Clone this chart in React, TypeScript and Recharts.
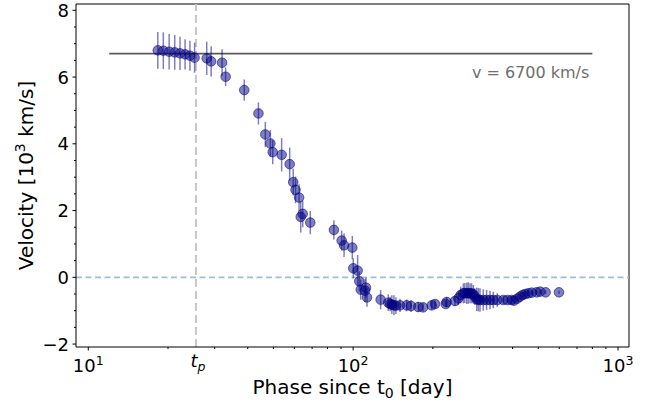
import React from 'react';
import {
  ScatterChart,
  Scatter,
  XAxis,
  YAxis,
  ErrorBar,
  ReferenceLine,
  Label,
} from 'recharts';

// Phase since t0 [day]
const phase = [
  18.3, 19.2, 20.2, 21.2, 22.2, 23.2, 24.2, 25.2, 28.0, 29.1,
  32.0, 33.0, 38.8, 43.9, 46.6, 48.7, 49.7, 53.7, 57.6, 59.4,
  60.6, 62.5, 63.4, 64.5, 68.9, 84.6, 90.5, 92.4, 99.3, 100.1,
  104.0, 105.5, 106.8, 110.9, 111.8, 112.8, 127.0, 135.7, 138.0, 140.0,
  142.6, 145.0, 150.3, 159.2, 165.4, 176.2, 183.6, 198.0, 203.8, 223.7,
  225.5, 242.4, 249.5, 254.7, 260.6, 264.0, 268.4, 272.0, 276.2, 280.0,
  284.3, 288.0, 292.8, 297.0, 301.3, 310.0, 319.0, 328.7, 338.0, 350.0,
  369.0, 383.0, 397.0, 405.0, 416.6, 426.6, 436.7, 446.6, 458.6, 472.0,
  493.0, 508.0, 533.0, 598.6,
];

// Velocity [10^3 km/s]
const velocity = [
  6.80, 6.79, 6.76, 6.74, 6.71, 6.68, 6.64, 6.58, 6.56, 6.47,
  6.43, 6.01, 5.61, 4.91, 4.28, 4.01, 3.75, 3.67, 3.39, 2.85,
  2.62, 2.39, 1.81, 1.90, 1.64, 1.42, 1.10, 0.96, 0.89, 0.27,
  0.20, -0.12, -0.37, -0.40, -0.31, -0.60, -0.67, -0.76, -0.80, -0.82,
  -0.84, -0.85, -0.84, -0.84, -0.86, -0.89, -0.90, -0.84, -0.80, -0.80,
  -0.74, -0.71, -0.63, -0.53, -0.48, -0.47, -0.48, -0.47, -0.48, -0.48,
  -0.51, -0.58, -0.66, -0.67, -0.68, -0.68, -0.68, -0.68, -0.68, -0.68,
  -0.68, -0.68, -0.68, -0.70, -0.64, -0.58, -0.53, -0.50, -0.48, -0.46,
  -0.45, -0.43, -0.45, -0.45,
];

// Velocity uncertainty [10^3 km/s]
const velocityErr = [
  0.55, 0.55, 0.53, 0.52, 0.50, 0.45, 0.45, 0.45, 0.50, 0.45,
  0.40, 0.28, 0.32, 0.33, 0.38, 0.40, 0.36, 0.50, 0.50, 0.40,
  0.40, 0.40, 0.47, 0.40, 0.35, 0.29, 0.30, 0.35, 0.35, 0.30,
  0.47, 0.30, 0.30, 0.35, 0.30, 0.28, 0.29, 0.25, 0.22, 0.28,
  0.30, 0.25, 0.20, 0.18, 0.18, 0.15, 0.12, 0.12, 0.12, 0.10,
  0.15, 0.15, 0.20, 0.25, 0.30, 0.30, 0.32, 0.32, 0.30, 0.30,
  0.28, 0.25, 0.35, 0.35, 0.35, 0.32, 0.30, 0.28, 0.25, 0.20,
  0.12, 0.10, 0.12, 0.10, 0.10, 0.10, 0.10, 0.10, 0.08, 0.08,
  0.06, 0.06, 0.06, 0.05,
];

const xMajorTicks = [10, 100, 1000];
const xMinorTicks = [20, 30, 40, 50, 60, 70, 80, 90, 200, 300, 400, 500, 600, 700, 800, 900];
const tpPhase = 25.5;
const yMajorTicks = [-2, 0, 2, 4, 6, 8];
const yMinorTicks = [-1.5, -1, -0.5, 0.5, 1, 1.5, 2.5, 3, 3.5, 4.5, 5, 5.5, 6.5, 7, 7.5];

const plateauVelocity = 6.7;
const plateauStart = 12;
const plateauEnd = 800;
const plateauLabel = 'v = 6700 km/s';

const xDomain = [8.987, 1100.3];
const yDomain = [-2.088, 8.189];

const data = phase.map((x, i) => ({ x, y: velocity[i], err: velocityErr[i] }));

const FONT = '"DejaVu Sans", sans-serif';
const NAVY = '#000080';

const XTick = (props: any) => {
  const { x, y, payload } = props;
  const v = payload.value;
  if (Math.abs(v - tpPhase) < 1e-6) {
    return (
      <text x={x + 2} y={y + 20} textAnchor="middle" fontFamily={FONT} fontSize={18} fontStyle="italic" fill="#000">
        t<tspan dy={4} fontSize={12.5}>p</tspan>
      </text>
    );
  }
  const major = xMajorTicks.some((m) => Math.abs(m - v) < 1e-6);
  const exp = Math.round(Math.log10(v));
  return (
    <g>
      <line x1={x} x2={x} y1={y} y2={y + (major ? 3.5 : 2)} stroke="#000" strokeWidth={1} />
      {major && (
        <text x={x} y={y + 25} textAnchor="middle" fontFamily={FONT} fontSize={18} fill="#000">
          10<tspan dy={-7} fontSize={12.6}>{exp}</tspan>
        </text>
      )}
    </g>
  );
};

const YTick = (props: any) => {
  const { x, y, payload } = props;
  const v = payload.value;
  const major = yMajorTicks.some((m) => Math.abs(m - v) < 1e-6);
  return (
    <g>
      <line x1={x - (major ? 3.5 : 2)} x2={x} y1={y} y2={y} stroke="#000" strokeWidth={1} />
      {major && (
        <text x={x - 7} y={y + 6.5} textAnchor="end" fontFamily={FONT} fontSize={18} fill="#000">
          {v < 0 ? '\u2212' + Math.abs(v) : String(v)}
        </text>
      )}
    </g>
  );
};

const renderDot = (props: any) => {
  const { cx, cy } = props;
  if (cx == null || cy == null) return <g />;
  return (
    <circle cx={cx} cy={cy} r={4.8} fill={NAVY} fillOpacity={0.5} stroke={NAVY} strokeOpacity={0.55} strokeWidth={1} />
  );
};

const YLabel = (props: any) => {
  const vb = props.viewBox || { x: 0, y: 4, width: 76, height: 343 };
  const cy = vb.y + vb.height / 2;
  const bx = 33;
  return (
    <text
      x={bx}
      y={cy}
      transform={`rotate(-90, ${bx}, ${cy})`}
      textAnchor="middle"
      fontFamily={FONT}
      fontSize={20}
      fill="#000"
    >
      Velocity [10<tspan dy={-8} fontSize={14}>3</tspan>
      <tspan dy={8}> km/s]</tspan>
    </text>
  );
};

const XLabel = (props: any) => {
  const vb = props.viewBox || { x: 76, y: 347, width: 553, height: 56 };
  const cx = vb.x + vb.width / 2;
  return (
    <text x={cx} y={vb.y + 47} textAnchor="middle" fontFamily={FONT} fontSize={20} fill="#000">
      Phase since t<tspan dy={4} fontSize={14}>0</tspan>
      <tspan dy={-4}> [day]</tspan>
    </text>
  );
};

const PlateauLabel = (props: any) => {
  const vb = props.viewBox || { x: 0, y: 0, width: 0, height: 0 };
  return (
    <text x={vb.x + vb.width - 3} y={vb.y + 24} textAnchor="end" fontFamily={FONT} fontSize={16} fill="#6e6e6e">
      {plateauLabel}
    </text>
  );
};

export default function App() {
  return (
    <div style={{ position: 'absolute', left: 0, top: 0, width: 659, height: 403, background: '#fff' }}>
      <ScatterChart
        width={659}
        height={403}
        margin={{ top: 4, right: 30, bottom: 0, left: 0 }}
        style={{ fontFamily: FONT }}
      >
        <XAxis
          type="number"
          dataKey="x"
          scale="log"
          domain={xDomain}
          allowDataOverflow
          ticks={[...xMajorTicks, ...xMinorTicks, tpPhase]}
          interval={0}
          tickLine={false}
          tickSize={0}
          tickMargin={0}
          tick={<XTick />}
          axisLine={{ stroke: '#000', strokeWidth: 1 }}
          height={56}
        >
          <Label content={<XLabel />} />
        </XAxis>
        <YAxis
          type="number"
          dataKey="y"
          domain={yDomain}
          allowDataOverflow
          ticks={[...yMajorTicks, ...yMinorTicks]}
          interval={0}
          tickLine={false}
          tickSize={0}
          tickMargin={0}
          tick={<YTick />}
          axisLine={{ stroke: '#000', strokeWidth: 1 }}
          width={76}
        >
          <Label content={<YLabel />} />
        </YAxis>
        <ReferenceLine y={yDomain[1]} stroke="#000" strokeWidth={1} />
        <ReferenceLine x={xDomain[1]} stroke="#000" strokeWidth={1} />
        <ReferenceLine y={0} stroke="#9dbddb" strokeWidth={1.8} strokeDasharray="6 3.5" />
        <ReferenceLine x={tpPhase} stroke="#c8c8c8" strokeWidth={2} strokeDasharray="8 4" />
        <ReferenceLine
          segment={[
            { x: plateauStart, y: plateauVelocity },
            { x: plateauEnd, y: plateauVelocity },
          ]}
          stroke="#5a5a5a"
          strokeWidth={1.8}
          label={<PlateauLabel />}
        />
        <Scatter data={data} dataKey="y" isAnimationActive={false} shape={renderDot}>
          <ErrorBar dataKey="err" direction="y" width={0} stroke={NAVY} strokeOpacity={0.5} strokeWidth={1.5} />
        </Scatter>
      </ScatterChart>
    </div>
  );
}
